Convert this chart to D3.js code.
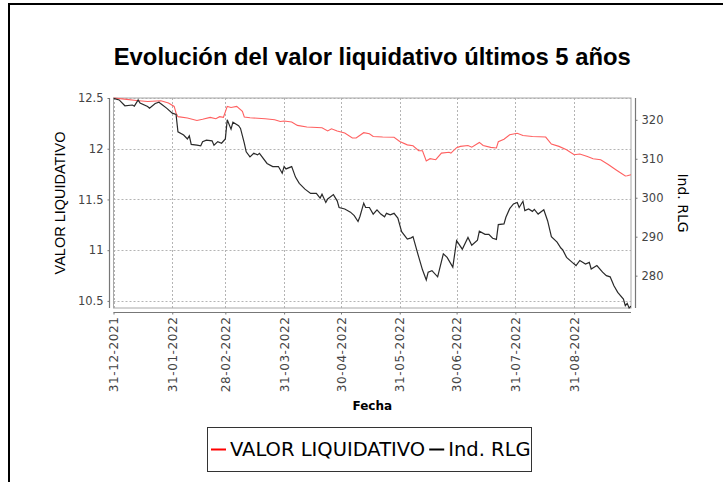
<!DOCTYPE html>
<html>
<head>
<meta charset="utf-8">
<script src="https://cdn.jsdelivr.net/npm/d3@7"></script>
<style>
  html, body { margin: 0; padding: 0; background: #fff; }
  svg { display: block; }
</style>
</head>
<body>
<div id="chart"></div>
<script>
'use strict';

// --- data ---
var fechasVL = ['2021-12-31','2022-01-07','2022-01-12','2022-01-18','2022-01-25','2022-01-29','2022-02-01','2022-02-02','2022-02-03','2022-02-08',
  '2022-02-13','2022-02-16','2022-02-20','2022-02-23','2022-02-25','2022-02-27','2022-03-01','2022-03-03','2022-03-06','2022-03-09',
  '2022-03-10','2022-03-13','2022-03-21','2022-03-26','2022-03-29','2022-03-31','2022-04-04','2022-04-07','2022-04-12','2022-04-20',
  '2022-04-23','2022-04-25','2022-04-28','2022-05-02','2022-05-06','2022-05-08','2022-05-12','2022-05-15','2022-05-17','2022-05-22',
  '2022-05-28','2022-05-31','2022-06-04','2022-06-07','2022-06-10','2022-06-12','2022-06-14','2022-06-16','2022-06-19','2022-06-22',
  '2022-06-26','2022-06-27','2022-06-30','2022-07-02','2022-07-06','2022-07-08','2022-07-12','2022-07-14','2022-07-18','2022-07-21',
  '2022-07-22','2022-07-25','2022-07-28','2022-08-01','2022-08-04','2022-08-09','2022-08-16','2022-08-19','2022-08-23','2022-08-27',
  '2022-08-31','2022-09-03','2022-09-07','2022-09-10','2022-09-14','2022-09-18','2022-09-22','2022-09-24','2022-09-27','2022-09-28',
  '2022-09-30'];
var valorLiq = [12.500,12.486,12.476,12.466,12.473,12.451,12.417,12.352,12.316,12.303,
  12.279,12.291,12.309,12.296,12.316,12.310,12.417,12.407,12.417,12.368,
  12.313,12.306,12.296,12.286,12.269,12.273,12.263,12.230,12.214,12.207,
  12.175,12.197,12.175,12.155,12.106,12.106,12.158,12.148,12.121,12.115,
  12.113,12.072,12.038,12.029,11.980,11.980,11.879,11.902,11.892,11.957,
  11.965,11.957,12.010,12.023,12.032,12.015,12.062,12.032,12.013,12.007,
  12.069,12.094,12.138,12.153,12.131,12.121,12.115,12.046,12.023,11.990,
  11.941,11.948,11.924,11.901,11.892,11.845,11.793,11.768,11.731,11.734,
  11.744];

var fechasRLG = ['2021-12-31','2022-01-03','2022-01-06','2022-01-10','2022-01-11','2022-01-13','2022-01-14','2022-01-18','2022-01-19','2022-01-22',
  '2022-01-24','2022-01-25','2022-01-28','2022-01-31','2022-02-02','2022-02-03','2022-02-06','2022-02-08','2022-02-09','2022-02-10',
  '2022-02-13','2022-02-15','2022-02-16','2022-02-18','2022-02-21','2022-02-22','2022-02-24','2022-02-26','2022-02-28','2022-03-01',
  '2022-03-03','2022-03-04','2022-03-07','2022-03-08','2022-03-10','2022-03-11','2022-03-13','2022-03-15','2022-03-17','2022-03-18',
  '2022-03-22','2022-03-25','2022-03-28','2022-03-30','2022-03-31','2022-04-01','2022-04-04','2022-04-06','2022-04-08','2022-04-11',
  '2022-04-14','2022-04-17','2022-04-19','2022-04-20','2022-04-22','2022-04-23','2022-04-26','2022-04-28','2022-04-29','2022-05-02',
  '2022-05-05','2022-05-07','2022-05-09','2022-05-10','2022-05-12','2022-05-13','2022-05-15','2022-05-17','2022-05-19','2022-05-21',
  '2022-05-23','2022-05-24','2022-05-26','2022-05-28','2022-05-30','2022-06-01','2022-06-04','2022-06-06','2022-06-07','2022-06-10',
  '2022-06-12','2022-06-14','2022-06-15','2022-06-17','2022-06-20','2022-06-23','2022-06-25','2022-06-28','2022-06-30','2022-07-03',
  '2022-07-06','2022-07-08','2022-07-11','2022-07-12','2022-07-15','2022-07-17','2022-07-19','2022-07-21','2022-07-22','2022-07-25',
  '2022-07-26','2022-07-28','2022-07-30','2022-08-01','2022-08-02','2022-08-04','2022-08-05','2022-08-07','2022-08-09','2022-08-10',
  '2022-08-12','2022-08-15','2022-08-17','2022-08-19','2022-08-22','2022-08-24','2022-08-25','2022-08-27','2022-08-30','2022-09-01',
  '2022-09-03','2022-09-06','2022-09-08','2022-09-09','2022-09-12','2022-09-15','2022-09-17','2022-09-19','2022-09-21','2022-09-23',
  '2022-09-26','2022-09-27','2022-09-28','2022-09-29','2022-09-30'];
var indRLG = [325.5,325.1,323.6,323.8,323.5,325.1,324.3,323.4,323.0,324.2,
  324.5,324.1,323.0,321.7,321.4,316.9,316.1,315.1,315.9,313.7,
  313.5,313.3,314.4,314.8,314.6,313.5,314.4,314.0,315.1,320.0,
  317.6,319.4,318.5,317.8,314.0,311.8,310.5,311.4,311.0,311.4,
  308.8,308.0,308.0,306.3,308.0,307.4,308.0,305.3,303.7,302.2,
  301.1,301.1,299.9,300.9,298.8,299.7,300.8,299.2,297.5,297.1,
  296.3,295.4,293.9,295.2,298.6,297.5,297.5,295.8,296.9,295.8,
  295.1,296.0,295.6,296.0,294.8,291.3,289.4,289.7,290.0,284.8,
  281.5,278.9,280.9,281.3,279.7,285.6,284.7,282.2,289.0,286.8,
  289.8,287.8,289.1,291.4,290.6,290.6,289.6,289.3,293.1,293.3,
  295.0,297.2,298.4,298.8,297.5,299.1,296.7,297.1,296.5,297.0,
  295.8,296.9,294.1,290.0,288.6,287.1,286.6,284.7,283.4,282.6,
  283.9,283.0,283.4,281.7,282.6,280.9,280.0,279.7,277.4,275.7,
  274.0,272.3,272.9,271.7,272.2];

var fechaInicio = '2021-12-31', fechaFin = '2022-09-30';
var tickFechas = ['2021-12-31','2022-01-31','2022-02-28','2022-03-31','2022-04-30','2022-05-31','2022-06-30','2022-07-31','2022-08-31'];
var rangoVL = [10.43, 12.5], ticksVL = [10.5, 11, 11.5, 12, 12.5];
var rangoRLG = [271.7, 325.6], ticksRLG = [280, 290, 300, 310, 320];
var titulo = 'Evolución del valor liquidativo últimos 5 años';
var nombres = ['VALOR LIQUIDATIVO', 'Ind. RLG'];

// --- layout ---
var W = 723, H = 482
  , plot = { left: 113.5, right: 631, top: 98, bottom: 308 }
  , tickFont = '"DejaVu Sans", sans-serif'
  , parse = d3.timeParse('%Y-%m-%d')
  , fmt = d3.timeFormat('%d-%m-%Y');

var x = d3.scaleTime()
  .domain([parse(fechaInicio), parse(fechaFin)])
  .range([plot.left, plot.right]);
var yL = d3.scaleLinear().domain(rangoVL).range([plot.bottom, plot.top]);
var yR = d3.scaleLinear().domain(rangoRLG).range([plot.bottom, plot.top]);

var svg = d3.select('#chart').append('svg')
  .attr('width', W)
  .attr('height', H);

svg.append('rect').attr('width', W).attr('height', H).attr('fill', '#fff');

// frame (only top and left edges are visible in the picture)
svg.append('path')
  .attr('d', 'M9,' + H + 'V4H' + W)
  .attr('fill', 'none')
  .attr('stroke', '#000')
  .attr('stroke-width', 2);

// title
svg.append('text')
  .attr('x', (plot.left + plot.right) / 2)
  .attr('y', 65)
  .attr('text-anchor', 'middle')
  .style('font-family', '"Liberation Sans", Arial, sans-serif')
  .style('font-weight', 'bold')
  .style('font-size', '23.8px')
  .text(titulo);

// plot background + grid
var g = svg.append('g');
g.append('rect')
  .attr('x', plot.left).attr('y', plot.top)
  .attr('width', plot.right - plot.left).attr('height', plot.bottom - plot.top)
  .attr('fill', '#fff');

var tickDates = tickFechas.map(parse);

g.selectAll('line.vgrid')
    .data(tickDates)
  .enter().append('line')
    .attr('class', 'vgrid')
    .attr('x1', function (d) { return Math.round(x(d)) + 0.5; })
    .attr('x2', function (d) { return Math.round(x(d)) + 0.5; })
    .attr('y1', plot.top).attr('y2', plot.bottom)
    .attr('stroke', '#b4b4b4').attr('stroke-dasharray', '2,2');

g.selectAll('line.hgrid')
    .data(ticksVL)
  .enter().append('line')
    .attr('class', 'hgrid')
    .attr('x1', plot.left).attr('x2', plot.right)
    .attr('y1', function (d) { return Math.round(yL(d)) + 0.5; })
    .attr('y2', function (d) { return Math.round(yL(d)) + 0.5; })
    .attr('stroke', '#b4b4b4').attr('stroke-dasharray', '2,2');

g.append('rect')
  .attr('x', plot.left).attr('y', plot.top)
  .attr('width', plot.right - plot.left).attr('height', plot.bottom - plot.top)
  .attr('fill', 'none')
  .attr('stroke', '#a8a8a8');

// series
svg.append('clipPath').attr('id', 'clip')
  .append('rect')
  .attr('x', plot.left).attr('y', plot.top - 2)
  .attr('width', plot.right - plot.left).attr('height', plot.bottom - plot.top + 4);

var lineVL = d3.line()
  .x(function (d, i) { return x(parse(fechasVL[i])); })
  .y(function (d) { return yL(d); });
var lineRLG = d3.line()
  .x(function (d, i) { return x(parse(fechasRLG[i])); })
  .y(function (d) { return yR(d); });

svg.append('path')
  .datum(valorLiq)
  .attr('clip-path', 'url(#clip)')
  .attr('d', lineVL)
  .attr('fill', 'none')
  .attr('stroke', '#ff6060')
  .attr('stroke-width', 1.1);

svg.append('path')
  .datum(indRLG)
  .attr('clip-path', 'url(#clip)')
  .attr('d', lineRLG)
  .attr('fill', 'none')
  .attr('stroke', '#2a2a2a')
  .attr('stroke-width', 1.2);

// axes
var axisColor = '#777', labelColor = '#444';

var axL = svg.append('g').attr('transform', 'translate(109.5,0)')
  .call(d3.axisLeft(yL).tickValues(ticksVL).tickSize(2).tickPadding(4)
    .tickFormat(function (d) { return d === 10.5 || d === 11.5 || d === 12.5 ? d3.format('.1f')(d) : d3.format('d')(d); }));

var axR = svg.append('g').attr('transform', 'translate(635.5,0)')
  .call(d3.axisRight(yR).tickValues(ticksRLG).tickSize(2).tickPadding(4));

var axB = svg.append('g').attr('transform', 'translate(0,312.5)')
  .call(d3.axisBottom(x).tickValues(tickDates).tickSize(2).tickFormat(fmt));

[axL, axR, axB].forEach(function (ax) {
  ax.select('.domain').remove();
  ax.selectAll('.tick line').attr('stroke', axisColor);
  ax.selectAll('.tick text')
    .attr('fill', labelColor)
    .style('font-family', tickFont)
    .style('font-size', '11.5px');
});

axB.selectAll('.tick text')
  .attr('transform', 'rotate(-90)')
  .attr('text-anchor', 'end')
  .attr('x', -4)
  .attr('y', 0)
  .attr('dy', '0.35em')
  .style('font-size', '12px')
  .style('letter-spacing', '0.6px');

// axis lines
svg.append('line').attr('x1', 109.5).attr('x2', 109.5).attr('y1', plot.top).attr('y2', plot.bottom)
  .attr('stroke', axisColor).attr('stroke-width', 1.2);
svg.append('line').attr('x1', 635.5).attr('x2', 635.5).attr('y1', plot.top).attr('y2', plot.bottom)
  .attr('stroke', axisColor).attr('stroke-width', 1.2);
svg.append('line').attr('x1', plot.left).attr('x2', plot.right).attr('y1', 312.5).attr('y2', 312.5)
  .attr('stroke', axisColor).attr('stroke-width', 1.2);

// axis titles
svg.append('text')
  .attr('transform', 'translate(60,' + (plot.top + plot.bottom) / 2 + ') rotate(-90)')
  .attr('text-anchor', 'middle')
  .attr('dy', '0.35em')
  .style('font-family', '"Liberation Sans", Arial, sans-serif')
  .style('font-size', '14.5px')
  .text(nombres[0]);

svg.append('text')
  .attr('transform', 'translate(683,' + (plot.top + plot.bottom) / 2 + ') rotate(90)')
  .attr('text-anchor', 'middle')
  .attr('dy', '0.35em')
  .style('font-family', tickFont)
  .style('font-size', '14px')
  .text(nombres[1]);

svg.append('text')
  .attr('x', (plot.left + plot.right) / 2)
  .attr('y', 410)
  .attr('text-anchor', 'middle')
  .style('font-family', tickFont)
  .style('font-weight', 'bold')
  .style('font-size', '12px')
  .text('Fecha');

// legend
var legend = svg.append('g').attr('class', 'legend');
legend.append('rect')
  .attr('x', 207.5).attr('y', 427.5)
  .attr('width', 324).attr('height', 44)
  .attr('fill', '#fff')
  .attr('stroke', '#333');

var colores = ['#ff0000', '#000'];
var lx = 211;
nombres.forEach(function (n, i) {
  legend.append('line')
    .attr('x1', lx).attr('x2', lx + 15)
    .attr('y1', 449.5).attr('y2', 449.5)
    .attr('stroke', colores[i]).attr('stroke-width', 2);
  var t = legend.append('text')
    .attr('x', lx + 19)
    .attr('y', 456)
    .style('font-family', tickFont)
    .style('font-size', '19.5px')
    .text(n);
  lx += 19 + t.node().getComputedTextLength() + 4;
});
</script>
</body>
</html>
